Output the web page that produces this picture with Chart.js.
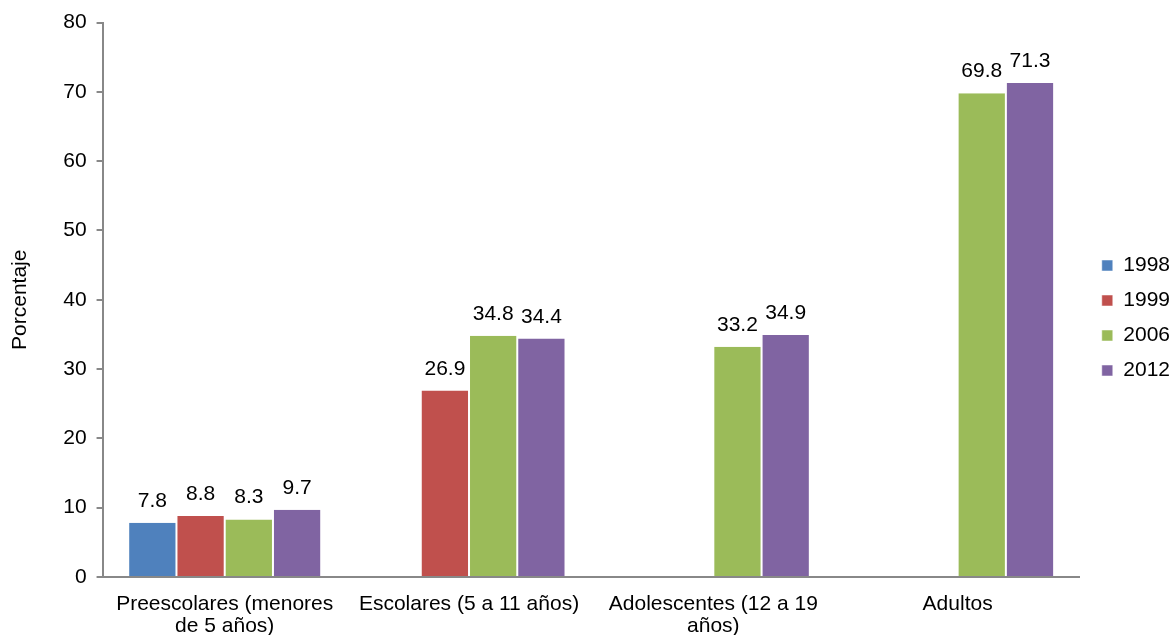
<!DOCTYPE html>
<html>
<head>
<meta charset="utf-8">
<script src="https://cdn.jsdelivr.net/npm/chart.js@4/dist/chart.umd.min.js"></script>
<style>
  html, body { margin: 0; padding: 0; background: #fff; overflow: hidden; }
  #wrap { width: 1172px; height: 645px; }
</style>
</head>
<body>
<div id="wrap"><canvas id="obesidad"></canvas></div>
<script>
// Sobrepeso/obesidad por grupo de edad, encuestas 1998-2012

const categorias = [
  ['Preescolares (menores', 'de 5 años)'],
  'Escolares (5 a 11 años)',
  ['Adolescentes (12 a 19', 'años)'],
  'Adultos'
];
const anios = ['1998', '1999', '2006', '2012'];
const v1998 = [7.8, null, null, null];
const v1999 = [8.8, 26.9, null, null];
const v2006 = [8.3, 34.8, 33.2, 69.8];
const v2012 = [9.7, 34.4, 34.9, 71.3];
const colores = ['#4F81BD', '#C0504D', '#9BBB59', '#8064A2'];

const FUENTE = 'Arial, "Liberation Sans", sans-serif';
const TAM = 21;

// etiquetas de valor encima de cada barra
const etiquetas = {
  id: 'etiquetas',
  afterDatasetsDraw(chart) {
    const ctx = chart.ctx;
    ctx.save();
    ctx.font = TAM + 'px ' + FUENTE;
    ctx.fillStyle = '#000';
    ctx.textAlign = 'center';
    ctx.textBaseline = 'alphabetic';
    chart.data.datasets.forEach((ds, i) => {
      const meta = chart.getDatasetMeta(i);
      meta.data.forEach((bar, j) => {
        const v = ds.data[j];
        if (v === null) return;
        ctx.fillText(v.toFixed(1), bar.x, bar.y - 16);
      });
    });
    ctx.restore();
  }
};

const series = [v1998, v1999, v2006, v2012];

const grafico = new Chart(document.getElementById('obesidad'), {
  type: 'bar',
  data: {
    labels: categorias,
    datasets: anios.map((a, i) => ({
      label: a,
      data: series[i],
      backgroundColor: colores[i],
      borderColor: '#ffffff',
      borderWidth: { left: 1, right: 1, top: 0, bottom: 0 },
      categoryPercentage: 0.79,
      barPercentage: 1.0
    }))
  },
  options: {
    responsive: true,
    maintainAspectRatio: false,
    animation: false,
    layout: { padding: { top: 21, right: 0, left: 8, bottom: 0 } },
    plugins: {
      tooltip: { enabled: false },
      legend: {
        position: 'right',
        labels: {
          font: { family: FUENTE, size: TAM },
          color: '#000',
          boxWidth: 11,
          boxHeight: 11,
          padding: 14
        }
      }
    },
    scales: {
      x: {
        grid: { display: false },
        border: { display: true, color: '#888', width: 2 },
        ticks: {
          color: '#000',
          font: { family: FUENTE, size: TAM, lineHeight: 1.05 },
          maxRotation: 0,
          autoSkip: false,
          padding: 8
        }
      },
      y: {
        min: 0,
        max: 80,
        ticks: {
          stepSize: 10,
          color: '#000',
          font: { family: FUENTE, size: TAM },
          padding: 10
        },
        grid: {
          drawOnChartArea: false,
          drawTicks: true,
          tickLength: 6,
          color: '#888',
          lineWidth: 2
        },
        border: { display: true, color: '#888', width: 2 },
        title: {
          display: true,
          text: 'Porcentaje',
          color: '#000',
          font: { family: FUENTE, size: TAM },
          padding: { top: 0, bottom: 20 }
        }
      }
    }
  },
  plugins: [etiquetas]
});

// la leyenda va un poco más a la derecha y más arriba que su caja
const leyenda = grafico.legend;
const dibujarLeyenda = leyenda.draw.bind(leyenda);
leyenda.draw = function () {
  this.ctx.save();
  this.ctx.translate(8, -15);
  dibujarLeyenda();
  this.ctx.restore();
};
grafico.draw();
</script>
</body>
</html>
